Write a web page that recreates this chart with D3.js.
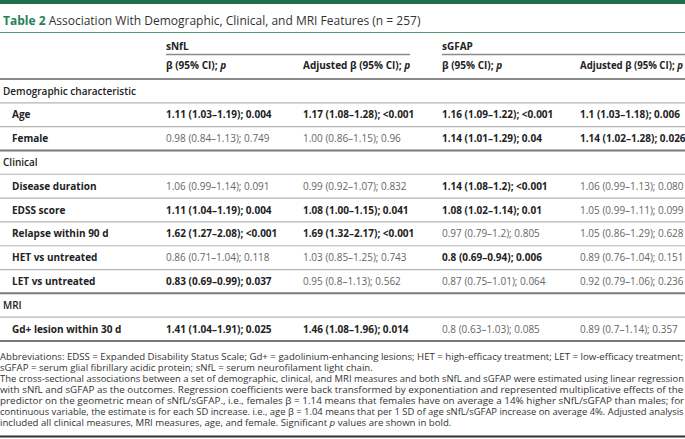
<!DOCTYPE html>
<html>
<head>
<meta charset="utf-8">
<script src="https://cdn.jsdelivr.net/npm/d3@7"></script>
<style>
  body { margin: 0; background: #fff; }
  svg { display: block; font-family: "Open Sans", sans-serif; }
</style>
</head>
<body>
<svg id="table" width="685" height="439"></svg>
<script>
// table content
const titleLabel = 'Table 2';
const titleText = 'Association With Demographic, Clinical, and MRI Features (n = 257)';
const groups = ['sNfL', 'sGFAP'];
const columnHeads = ['β (95% CI); p', 'Adjusted β (95% CI); p', 'β (95% CI); p', 'Adjusted β (95% CI); p'];
const rowLabels = ['Demographic characteristic', 'Age', 'Female', 'Clinical', 'Disease duration', 'EDSS score',
  'Relapse within 90 d', 'HET vs untreated', 'LET vs untreated', 'MRI', 'Gd+ lesion within 30 d'];
const sectionRows = ['Demographic characteristic', 'Clinical', 'MRI'];
const groupEndRows = ['Female', 'LET vs untreated', 'Gd+ lesion within 30 d'];

const sNfL = ['', '1.11 (1.03–1.19); 0.004', '0.98 (0.84–1.13); 0.749', '', '1.06 (0.99–1.14); 0.091',
  '1.11 (1.04–1.19); 0.004', '1.62 (1.27–2.08); <0.001', '0.86 (0.71–1.04); 0.118', '0.83 (0.69–0.99); 0.037', '',
  '1.41 (1.04–1.91); 0.025'];
const sNfLAdjusted = ['', '1.17 (1.08–1.28); <0.001', '1.00 (0.86–1.15); 0.96', '', '0.99 (0.92–1.07); 0.832',
  '1.08 (1.00–1.15); 0.041', '1.69 (1.32–2.17); <0.001', '1.03 (0.85–1.25); 0.743', '0.95 (0.8–1.13); 0.562', '',
  '1.46 (1.08–1.96); 0.014'];
const sGFAP = ['', '1.16 (1.09–1.22); <0.001', '1.14 (1.01–1.29); 0.04', '', '1.14 (1.08–1.2); <0.001',
  '1.08 (1.02–1.14); 0.01', '0.97 (0.79–1.2); 0.805', '0.8 (0.69–0.94); 0.006', '0.87 (0.75–1.01); 0.064', '',
  '0.8 (0.63–1.03); 0.085'];
const sGFAPAdjusted = ['', '1.1 (1.03–1.18); 0.006', '1.14 (1.02–1.28); 0.026', '', '1.06 (0.99–1.13); 0.080',
  '1.05 (0.99–1.11); 0.099', '1.05 (0.86–1.29); 0.628', '0.89 (0.76–1.04); 0.151', '0.92 (0.79–1.06); 0.236', '',
  '0.89 (0.7–1.14); 0.357'];

// footnote, one entry per printed line; true = last line of a paragraph
const noteLines = [
  ['Abbreviations: EDSS = Expanded Disability Status Scale; Gd+ = gadolinium-enhancing lesions; HET = high-efficacy treatment; LET = low-efficacy treatment;', false],
  ['sGFAP = serum glial fibrillary acidic protein; sNfL = serum neurofilament light chain.', true],
  ['The cross-sectional associations between a set of demographic, clinical, and MRI measures and both sNfL and sGFAP were estimated using linear regression', false],
  ['with sNfL and sGFAP as the outcomes. Regression coefficients were back transformed by exponentiation and represented multiplicative effects of the', false],
  ['predictor on the geometric mean of sNfL/sGFAP., i.e., females β = 1.14 means that females have on average a 14% higher sNfL/sGFAP than males; for', false],
  ['continuous variable, the estimate is for each SD increase. i.e., age β = 1.04 means that per 1 SD of age sNfL/sGFAP increase on average 4%. Adjusted analysis', false],
  ['included all clinical measures, MRI measures, age, and female. Significant *p* values are shown in bold.', true]
];

const columns = [sNfL, sNfLAdjusted, sGFAP, sGFAPAdjusted];

const W = 685;
const green = '#1f6e4c';
const svg = d3.select('#table');

const x = d3.scaleOrdinal().domain([0, 1, 2, 3]).range([166, 303, 442, 580]);
const y = d3.scaleBand().domain(rowLabels).range([79, 341]);

function isSignificant(s) {
  const p = s.split('; ')[1];
  if (!p) return false;
  return p.startsWith('<') || parseFloat(p) < 0.05;
}

// *word* -> italic
function writeRich(sel, str) {
  str.split('*').forEach((part, i) => {
    if (!part) return;
    sel.append('tspan').attr('font-style', i % 2 ? 'italic' : null).text(part);
  });
}
function headRich(sel, str) {
  const k = str.lastIndexOf('p');
  sel.append('tspan').text(str.slice(0, k));
  sel.append('tspan').attr('font-style', 'italic').text('p');
}

// top bar + title
svg.append('rect').attr('x', 0).attr('y', 0).attr('width', W).attr('height', 4).attr('fill', green);
const title = svg.append('text').attr('x', 3).attr('y', 25).attr('font-size', 12);
title.append('tspan').attr('fill', '#23825a').attr('font-weight', 700).text(titleLabel + ' ');
title.append('tspan').attr('fill', '#333').text(titleText);
svg.append('line').attr('x1', 0).attr('x2', W).attr('y1', 32.5).attr('y2', 32.5)
  .attr('stroke', '#4f9c78').attr('stroke-width', 1);

// group headers
groups.forEach((g, i) => {
  svg.append('text').attr('x', x(i * 2)).attr('y', 50).attr('font-size', 10)
    .attr('font-weight', 700).attr('fill', '#222').text(g);
});

const heads = columnHeads.map((h, i) => {
  const t = svg.append('text').attr('font-size', 10)
    .attr('font-weight', 700).attr('fill', '#222');
  headRich(t, h);
  const w = t.node().getComputedTextLength();
  // the last head has to stay inside the page
  const s = Math.min(1, (W - 2 - x(i)) / w);
  t.attr('transform', `translate(${x(i)},68.5) scale(${s},1)`);
  return w * s;
});
const head1End = x(1) + heads[1];

svg.append('line').attr('x1', x(0)).attr('x2', head1End).attr('y1', 54.5).attr('y2', 54.5)
  .attr('stroke', '#8a8a8a').attr('stroke-width', 1.5);
svg.append('line').attr('x1', x(2)).attr('x2', W).attr('y1', 54.5).attr('y2', 54.5)
  .attr('stroke', '#8a8a8a').attr('stroke-width', 1.5);
svg.append('line').attr('x1', 0).attr('x2', W).attr('y1', y.range()[0]).attr('y2', y.range()[0])
  .attr('stroke', '#8a8a8a').attr('stroke-width', 2);

// body rows
const rows = svg.append('g').selectAll('g').data(rowLabels).join('g')
  .attr('transform', d => `translate(0,${y(d)})`);

rows.append('text')
  .attr('x', d => sectionRows.includes(d) ? 3 : 12)
  .attr('y', y.bandwidth() / 2 + 3.6)
  .attr('font-size', 10)
  .attr('font-weight', d => sectionRows.includes(d) ? 600 : 700)
  .attr('fill', '#222')
  .text(d => d);

columns.forEach((col, ci) => {
  rows.append('text')
    .attr('x', x(ci))
    .attr('y', y.bandwidth() / 2 + 3.6)
    .attr('font-size', 10)
    .attr('font-weight', (d, i) => isSignificant(col[i]) ? 700 : 400)
    .attr('fill', (d, i) => isSignificant(col[i]) ? '#222' : '#666')
    .text((d, i) => col[i]);
});

rows.append('line')
  .attr('x1', 0).attr('x2', W)
  .attr('y1', y.bandwidth()).attr('y2', y.bandwidth())
  .attr('stroke', d => groupEndRows.includes(d) ? '#7a7a7a' : '#b5b5b5')
  .attr('stroke-width', d => groupEndRows.includes(d) ? 2 : 1.2);

// footnote, justified lines fitted to the full width
const noteTop = 360, noteStep = 11;
const notes = svg.append('g').attr('font-size', 9.1).attr('fill', '#333');
const items = noteLines.map(([str, last], i) => {
  const t = notes.append('text').attr('x', 0).attr('y', 0);
  writeRich(t, str);
  return { t, last, w: t.node().getComputedTextLength(), i };
});
const full = items.filter(d => !d.last);
const ratio = d3.mean(full, d => (W - 1) / d.w);
items.forEach(d => {
  const s = d.last ? ratio : (W - 1) / d.w;
  d.t.attr('transform', `translate(0,${noteTop + d.i * noteStep}) scale(${s},1)`);
});

svg.append('line').attr('x1', 0).attr('x2', W).attr('y1', 436.5).attr('y2', 436.5)
  .attr('stroke', '#333').attr('stroke-width', 2);
</script>
</body>
</html>
